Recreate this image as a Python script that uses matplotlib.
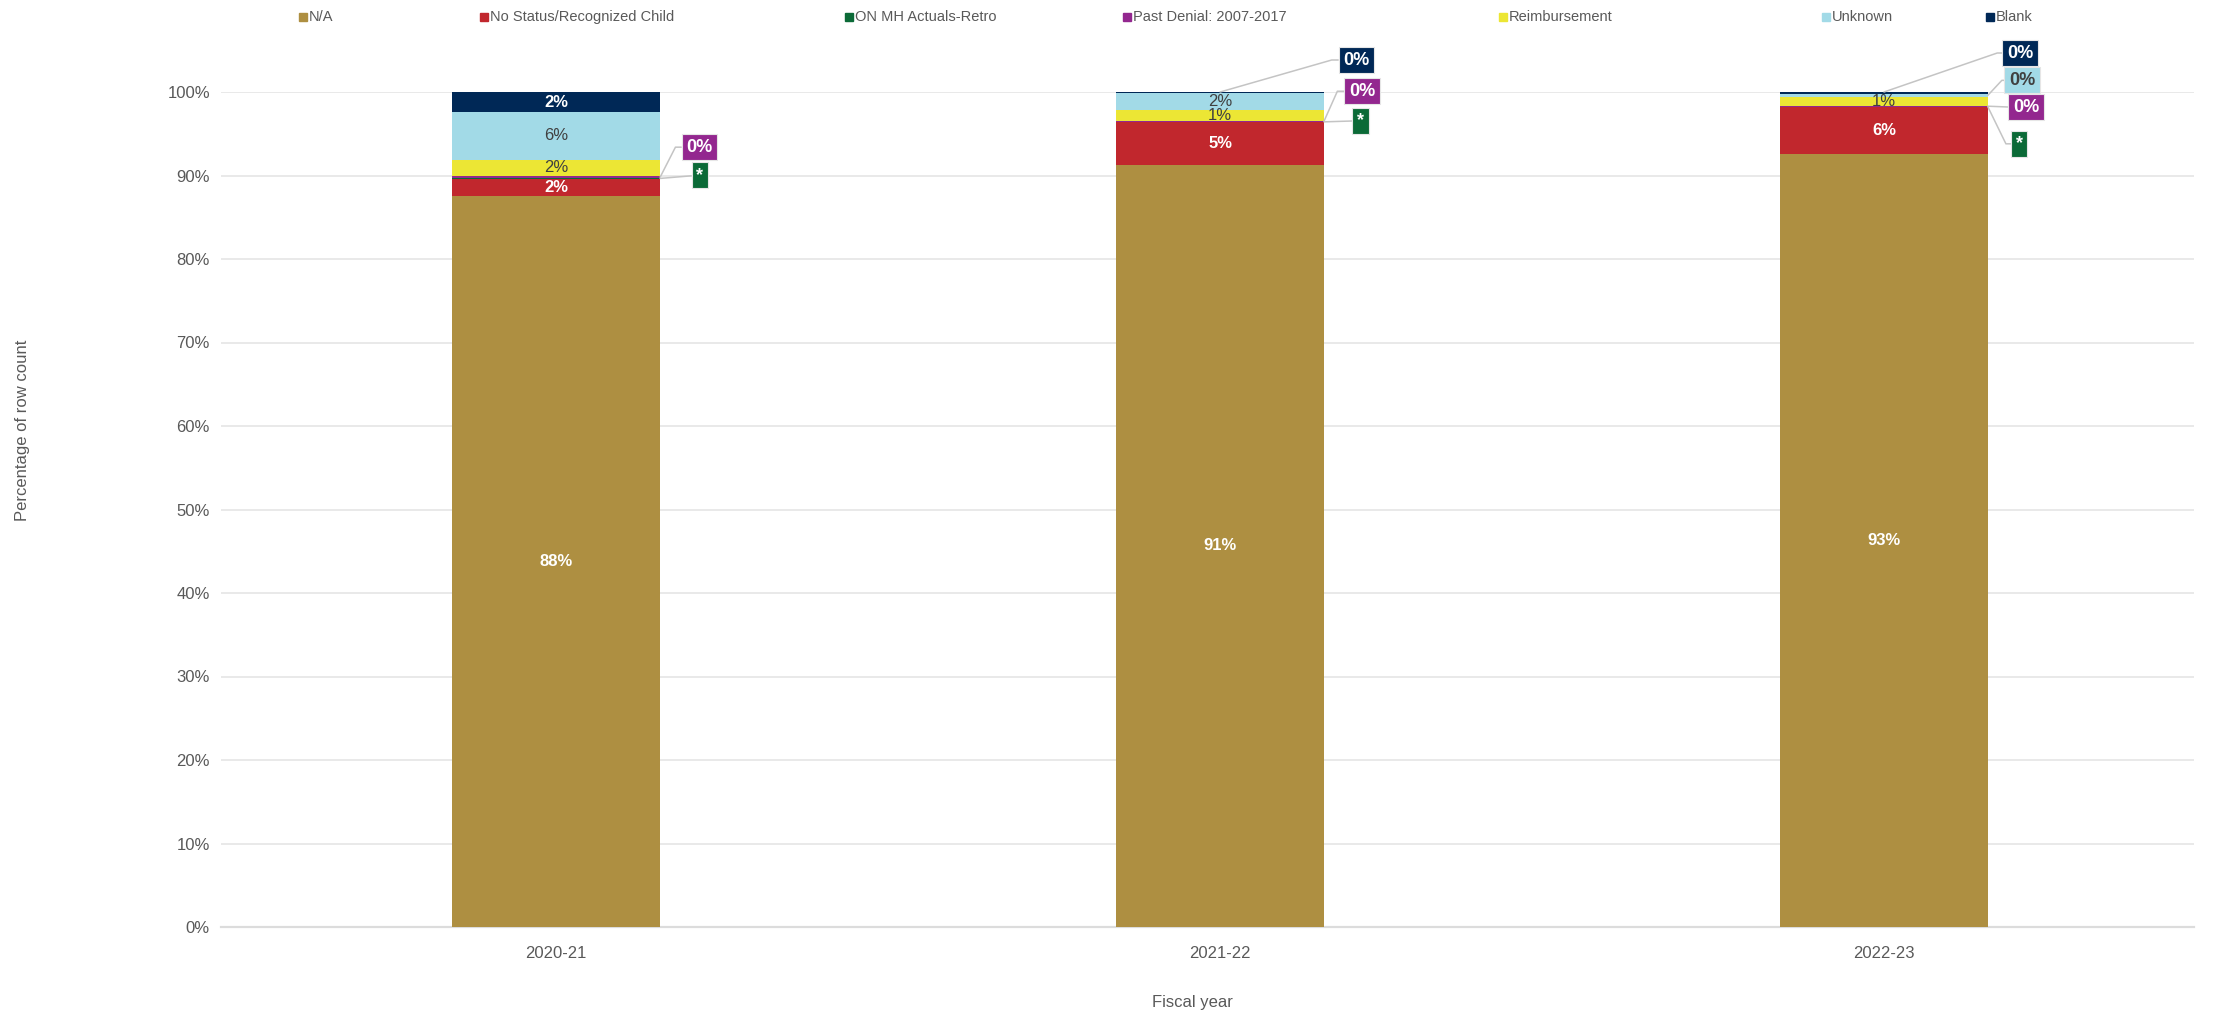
import matplotlib
matplotlib.use("Agg")
import matplotlib.pyplot as plt
from matplotlib.lines import Line2D
from matplotlib import font_manager
import numpy as np

# ---- data ----
years = ["2020-21", "2021-22", "2022-23"]
series = ["N/A", "No Status/Recognized Child", "ON MH Actuals-Retro",
          "Past Denial: 2007-2017", "Reimbursement", "Unknown", "Blank"]
na = [87.6, 91.3, 92.6]
no_status = [2.0, 5.1, 5.6]
on_mh = [0.1, 0.05, 0.05]
past_denial = [0.2, 0.1, 0.1]
reimbursement = [2.0, 1.3, 1.1]
unknown = [5.7, 2.0, 0.3]
blank = [2.4, 0.15, 0.25]
suppressed = ["ON MH Actuals-Retro"]  # small counts shown as *

values = [na, no_status, on_mh, past_denial, reimbursement, unknown, blank]
colors = ["#AE8F41", "#C1272D", "#0B6A37", "#93278F", "#ECE634", "#A2DAE7", "#002856"]
label_colors = ["white", "white", "white", "white", "#404040", "#404040", "white"]

# callouts for small segments: (anchor, dx px, dy px, elbow angle)
callouts = {
    (0, "ON MH Actuals-Retro"): ("side", 36, 3, None),
    (0, "Past Denial: 2007-2017"): ("side", 26, 30, 63),
    (1, "ON MH Actuals-Retro"): ("side", 33, 1, None),
    (1, "Past Denial: 2007-2017"): ("side", 25, 30, 66),
    (1, "Blank"): ("top", 123, 32, 16),
    (2, "ON MH Actuals-Retro"): ("side", 28, -37, -64),
    (2, "Past Denial: 2007-2017"): ("side", 25, -1, None),
    (2, "Unknown"): ("side", 21, 15, 47),
    (2, "Blank"): ("top", 123, 39, 19),
}


def pick(*names):
    avail = {f.name for f in font_manager.fontManager.ttflist}
    for n in names:
        if n in avail:
            return n
    return "DejaVu Sans"


main_font = pick("Liberation Sans", "Arial")
narrow_font = pick("Liberation Sans Narrow", "Liberation Sans")
plt.rcParams["font.family"] = main_font

grey = "#595959"
fig = plt.figure(figsize=(22.34, 10.17), dpi=100)
ax = fig.add_axes([221 / 2234, 1 - 927 / 1017, (2194 - 221) / 2234, (927 - 92) / 1017])

x = np.arange(len(years))
width = 0.313
bottom = np.zeros(len(years))
for name, vals, col, lc in zip(series, values, colors, label_colors):
    vals = np.array(vals)
    ax.bar(x, vals, width, bottom=bottom, color=col, label=name, zorder=3)
    for i, v in enumerate(vals):
        txt = "*" if name in suppressed else f"{round(v)}%"
        key = (i, name)
        if key in callouts:
            anchor, dx, dy, ang = callouts[key]
            if anchor == "top":
                xy = (x[i], bottom[i] + v)
            else:
                xy = (x[i] + width / 2, bottom[i] + v / 2)
            cs = "arc3" if ang is None else f"angle,angleA=0,angleB={ang},rad=0"
            ax.annotate(txt, xy=xy, xytext=(dx, dy), textcoords="offset pixels",
                        ha="left", va="center", fontsize=13, fontweight="bold",
                        color=lc, zorder=5,
                        bbox=dict(boxstyle="square,pad=0.25", fc=col, ec="#e6e6e6", lw=0.8),
                        arrowprops=dict(arrowstyle="-", color="#c4c4c4", lw=1.1,
                                        shrinkA=0, shrinkB=0, relpos=(0, 0.5),
                                        connectionstyle=cs))
        elif v >= 1:
            ax.text(x[i], bottom[i] + v / 2, txt, ha="center", va="center",
                    fontsize=12, color=lc, zorder=4,
                    fontweight="bold" if lc == "white" else "normal")
    bottom += vals

ax.set_xlim(-0.505, 2.467)
ax.set_ylim(0, 100)
ax.set_yticks(np.arange(0, 101, 10))
ax.set_yticklabels([f"{t}%" for t in range(0, 101, 10)])
ax.set_xticks(x)
ax.set_xticklabels(years, fontfamily=narrow_font)
ax.tick_params(axis="y", length=0, pad=8, labelsize=12, labelcolor=grey)
ax.tick_params(axis="x", length=0, pad=14, labelsize=12, labelcolor=grey)
ax.grid(axis="y", color="#e3e3e3", lw=1.1, zorder=0)
for s in ["top", "right", "left"]:
    ax.spines[s].set_visible(False)
ax.spines["bottom"].set_color("#dcdcdc")
ax.spines["bottom"].set_linewidth(1.6)

fig.text(1192 / 2234, 1 - 1003 / 1017, "Fiscal year", ha="center", va="center",
         fontsize=12, color=grey, fontfamily=narrow_font)
fig.text(23 / 2234, 1 - 430 / 1017, "Percentage of row count", ha="center", va="center",
         rotation=90, fontsize=12, color=grey, fontfamily=narrow_font)

# legend across the top
legend_x = [303, 484, 849, 1127, 1503, 1826, 1990]
for lx, name, col in zip(legend_x, series, colors):
    fig.add_artist(Line2D([lx / 2234], [1 - 17 / 1017], marker="s", markersize=6,
                          color=col, linestyle="none", transform=fig.transFigure))
    fig.text((lx + 6) / 2234, 1 - 17 / 1017, name, ha="left", va="center",
             fontsize=10.5, color=grey, fontfamily=narrow_font)

fig.savefig("out.png", dpi=100, facecolor="white")
